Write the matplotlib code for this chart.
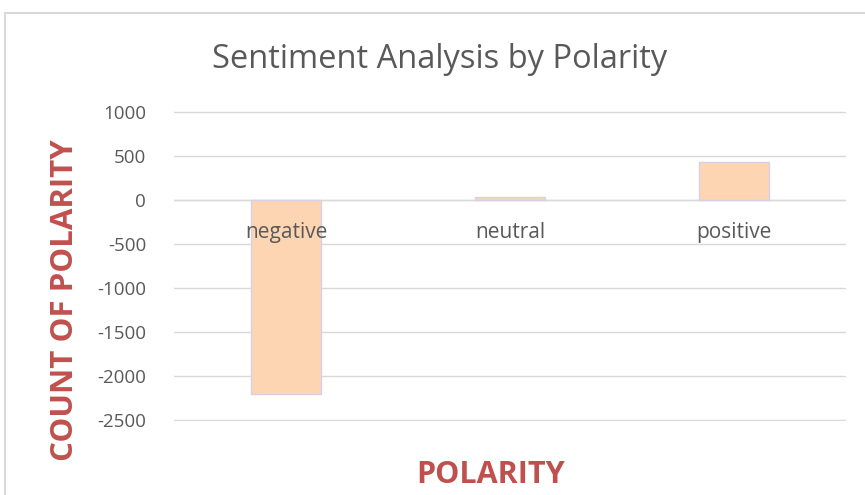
import matplotlib
matplotlib.use("Agg")
import matplotlib.pyplot as plt
from matplotlib.patches import Rectangle

categories = ["negative", "neutral", "positive"]
counts = [-2200, 35, 430]
yticks = [1000, 500, 0, -500, -1000, -1500, -2000, -2500]

W, H = 865, 495
fig = plt.figure(figsize=(W/100, H/100), dpi=100)
fig.patch.set_facecolor("white")

# chart frame
fig.add_artist(Rectangle((5/W, -0.1), 1.2, (H-13)/H + 0.1, transform=fig.transFigure,
                         fill=False, edgecolor="#d9d9d9", linewidth=1.5))

left, right, top, bottom = 174, 846, 111, 421
ax = fig.add_axes([left/W, 1-bottom/H, (right-left)/W, (bottom-top)/H])
ax.set_xlim(-0.5, 2.5)
ax.set_ylim(-2511, 1011)
x = list(range(len(categories)))
ax.bar(x, counts, width=0.31, color="#fdd5b3", edgecolor="#d8d0e6", linewidth=1, zorder=3)
ax.set_yticks(yticks)
ax.set_yticklabels([str(v) for v in yticks])
ax.yaxis.grid(True, color="#d9d9d9", linewidth=1)
ax.set_axisbelow(True)
ax.axhline(0, color="#d9d9d9", linewidth=1, zorder=2)
for s in ax.spines.values():
    s.set_visible(False)
ax.tick_params(axis="y", length=0, labelsize=13.5, labelcolor="#595959", pad=20)
ax.set_xticks([])
font = "Open Sans"
for lab in ax.get_yticklabels():
    lab.set_fontfamily(font)
for xi, c in zip(x, categories):
    ax.text(xi, -370, c, ha="center", va="center", fontsize=15, color="#595959",
            fontfamily=font, zorder=4)

fig.text(440/W, 1-60/H, "Sentiment Analysis by Polarity", ha="center", va="center",
         fontsize=23.5, color="#595959", fontfamily=font)
fig.text(65/W, 1-300/H, "COUNT OF POLARITY", rotation=90, ha="center", va="center",
         fontsize=22.5, fontweight="bold", color="#c0504d", fontfamily=font)
fig.text(491/W, 1-475/H, "POLARITY", ha="center", va="center",
         fontsize=22, fontweight="bold", color="#c0504d", fontfamily=font)

fig.savefig("out.png", dpi=100)
